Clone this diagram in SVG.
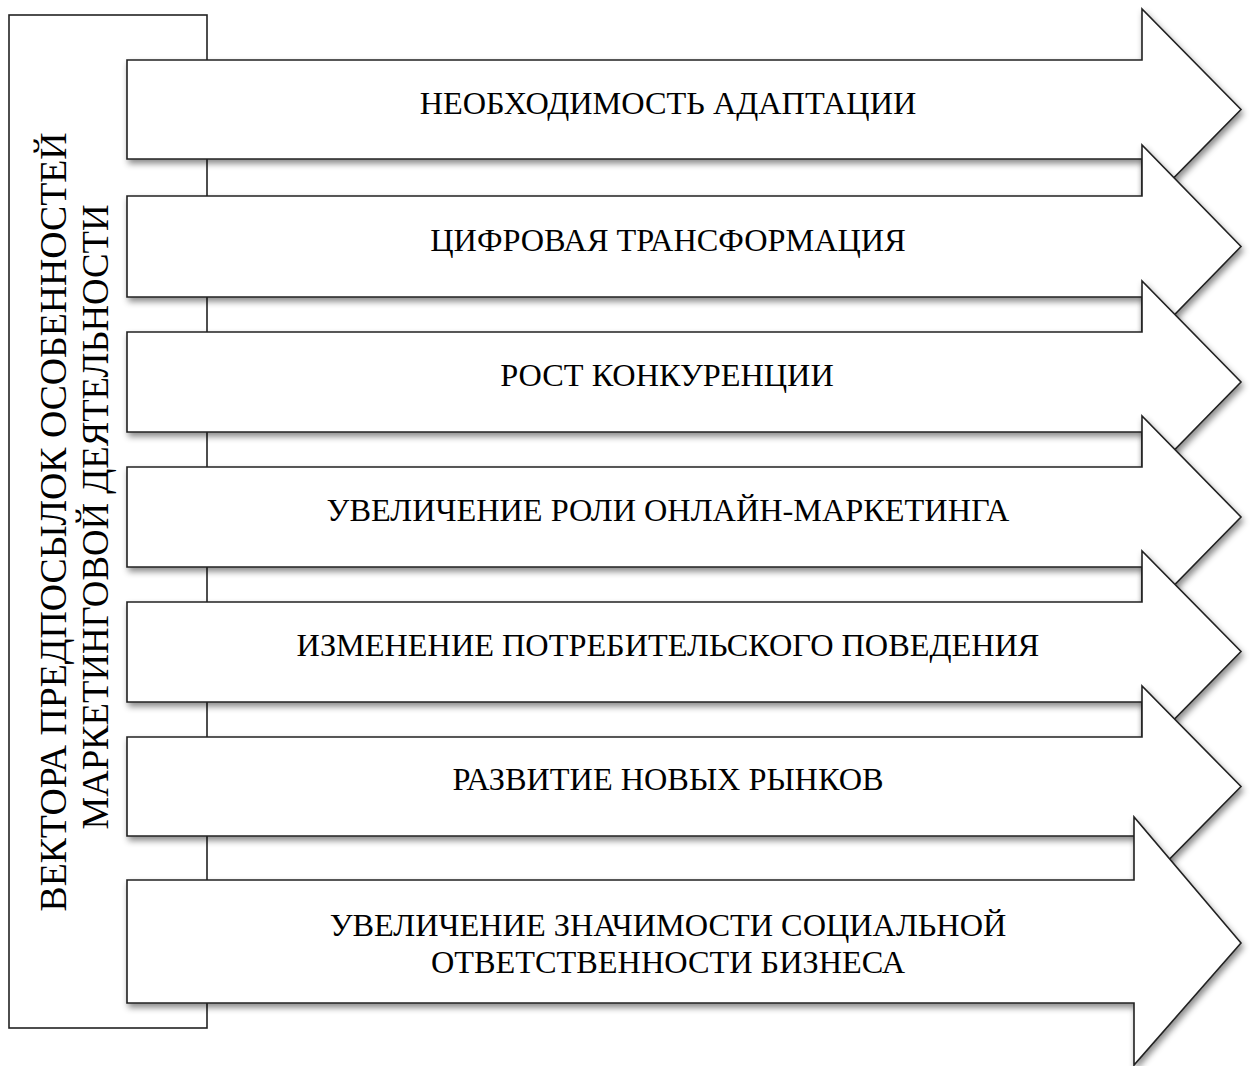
<svg xmlns="http://www.w3.org/2000/svg" width="1251" height="1066" viewBox="0 0 1251 1066">
<style>
.box{fill:#fff;stroke:#222;stroke-width:1.6}
.arr{fill:#fff;stroke:#222;stroke-width:1.6;stroke-linejoin:miter;filter:url(#sh)}
.t{font-family:"Liberation Serif","Times New Roman",serif;font-size:32.3px;fill:#000;text-anchor:middle}
.v{font-family:"Liberation Serif","Times New Roman",serif;font-size:37px;fill:#000;text-anchor:middle}
</style>
<defs>
<filter id="sh" x="-5%" y="-20%" width="115%" height="150%">
<feDropShadow dx="2" dy="4" stdDeviation="3" flood-color="#000" flood-opacity="0.45"/>
</filter>
</defs>
<g id="left">
<rect class="box" x="9" y="15" width="198" height="1013"/>
<text class="v" transform="translate(66,522) rotate(-90)" textLength="779" lengthAdjust="spacingAndGlyphs">ВЕКТОРА ПРЕДПОСЫЛОК ОСОБЕННОСТЕЙ</text>
<text class="v" transform="translate(108,517) rotate(-90)" textLength="625" lengthAdjust="spacingAndGlyphs">МАРКЕТИНГОВОЙ ДЕЯТЕЛЬНОСТИ</text>
</g>
<g id="connectors"></g>
<g id="a1">
<path class="arr" d="M127,60 H1142 V9 L1241,109.5 L1142,210 V159 H127 Z"/>
<text class="t" x="668" y="114">НЕОБХОДИМОСТЬ АДАПТАЦИИ</text>
</g>
<g id="a2">
<path class="arr" d="M127,196 H1142 V145 L1241,246.5 L1142,348 V297 H127 Z"/>
<text class="t" x="668" y="251">ЦИФРОВАЯ ТРАНСФОРМАЦИЯ</text>
</g>
<g id="a3">
<path class="arr" d="M127,332 H1142 V281 L1241,382 L1142,483 V432 H127 Z"/>
<text class="t" x="667" y="386">РОСТ КОНКУРЕНЦИИ</text>
</g>
<g id="a4">
<path class="arr" d="M127,467 H1142 V416 L1241,517 L1142,618 V567 H127 Z"/>
<text class="t" x="668" y="521">УВЕЛИЧЕНИЕ РОЛИ ОНЛАЙН-МАРКЕТИНГА</text>
</g>
<g id="a5">
<path class="arr" d="M127,602 H1142 V551 L1241,651.5 L1142,752 V702 H127 Z"/>
<text class="t" x="668" y="656">ИЗМЕНЕНИЕ ПОТРЕБИТЕЛЬСКОГО ПОВЕДЕНИЯ</text>
</g>
<g id="a6">
<path class="arr" d="M127,737 H1142 V686 L1241,786.5 L1142,887 V836 H127 Z"/>
<text class="t" x="668" y="790">РАЗВИТИЕ НОВЫХ РЫНКОВ</text>
</g>
<g id="a7">
<path class="arr" d="M127,880 H1134 V817 L1241,943 L1134,1065 V1003 H127 Z"/>
<text class="t" x="668" y="936">УВЕЛИЧЕНИЕ ЗНАЧИМОСТИ СОЦИАЛЬНОЙ</text>
<text class="t" x="668" y="973">ОТВЕТСТВЕННОСТИ БИЗНЕСА</text>
</g>
</svg>
